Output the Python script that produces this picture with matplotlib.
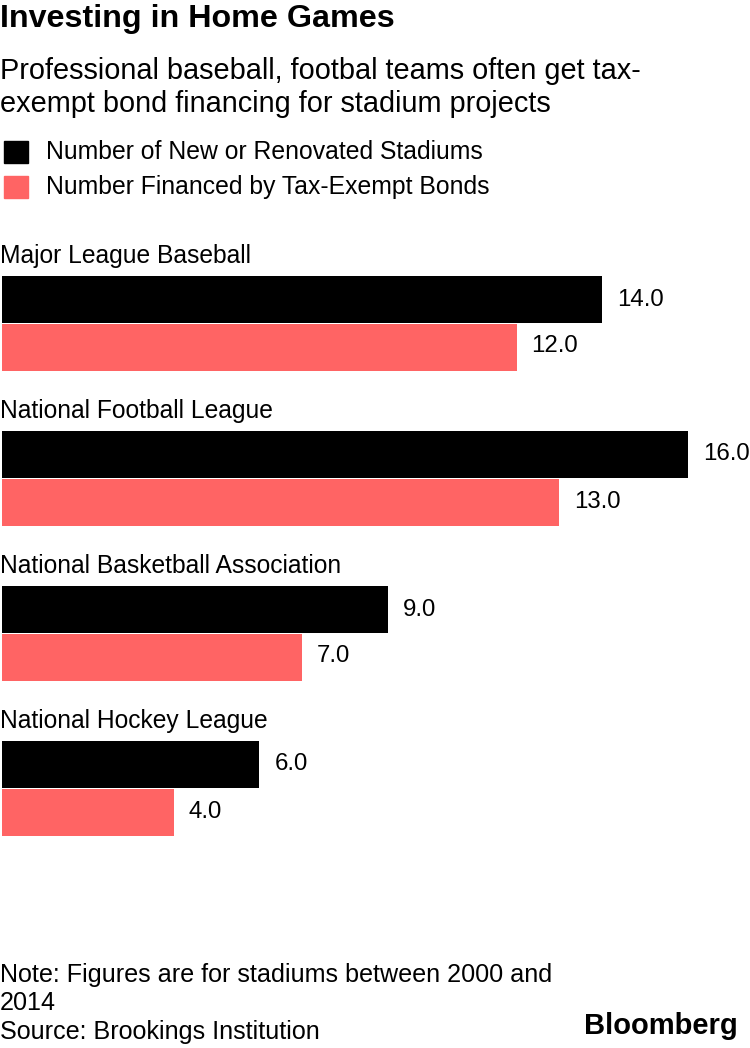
import matplotlib.pyplot as plt
import numpy as np

plt.rcParams['font.family'] = ['Liberation Sans', 'DejaVu Sans']

leagues = ['Major League Baseball', 'National Football League',
           'National Basketball Association', 'National Hockey League']
total = [14.0, 16.0, 9.0, 6.0]
bonds = [12.0, 13.0, 7.0, 4.0]
series = ['Number of New or Renovated Stadiums', 'Number Financed by Tax-Exempt Bonds']
colors = ['#000000', '#FF6464']

W, H = 750, 1048
fig = plt.figure(figsize=(W / 100, H / 100), dpi=100)

def px(x, y):
    return x / W, 1 - y / H

# axes spans bars region, y in pixel units (top down)
ax = fig.add_axes([2 / W, 0, 748 / W, 1])
ax.set_xlim(0, 748 / 42.875)
ax.set_ylim(H, 0)
ax.axis('off')

bh = 47
for i, lg in enumerate(leagues):
    top = 276 + 155 * i
    ax.barh(top + bh / 2, total[i], height=bh, color=colors[0], left=0)
    ax.barh(top + bh * 1.5 + 0.5, bonds[i], height=bh, color=colors[1], left=0)
    ax.text(-0.04, top - 20, lg, fontsize=17.7, va='center', ha='left')
    for v, yy in [(total[i], top + bh / 2), (bonds[i], top + bh * 1.5)]:
        ax.annotate(f'{v:.1f}', (v, yy), xytext=(15, 0), textcoords='offset pixels',
                    va='center', ha='left', fontsize=17.3)

# header
fig.text(*px(0, 19), 'Investing in Home Games', fontsize=23.2, fontweight='bold', va='center')
fig.text(*px(0, 71), 'Professional baseball, footbal teams often get tax-', fontsize=20.8, va='center')
fig.text(*px(0, 104), 'exempt bond financing for stadium projects', fontsize=20.8, va='center')

for k, (s, c) in enumerate(zip(series, colors)):
    yc = 152 + 35 * k
    fig.patches.append(plt.Rectangle(px(4, yc + 11), 24 / W, 22 / H, color=c,
                                     transform=fig.transFigure, figure=fig))
    fig.text(*px(46, yc), s, fontsize=17.8, va='center')

# footer
fig.text(*px(0, 975), 'Note: Figures are for stadiums between 2000 and', fontsize=18.1, va='center')
fig.text(*px(0, 1003), '2014', fontsize=18.1, va='center')
fig.text(*px(0, 1032), 'Source: Brookings Institution', fontsize=18.1, va='center')
fig.text(*px(738, 1026), 'Bloomberg', fontsize=21, fontweight='bold', va='center', ha='right')

fig.savefig('out.png', dpi=100)
